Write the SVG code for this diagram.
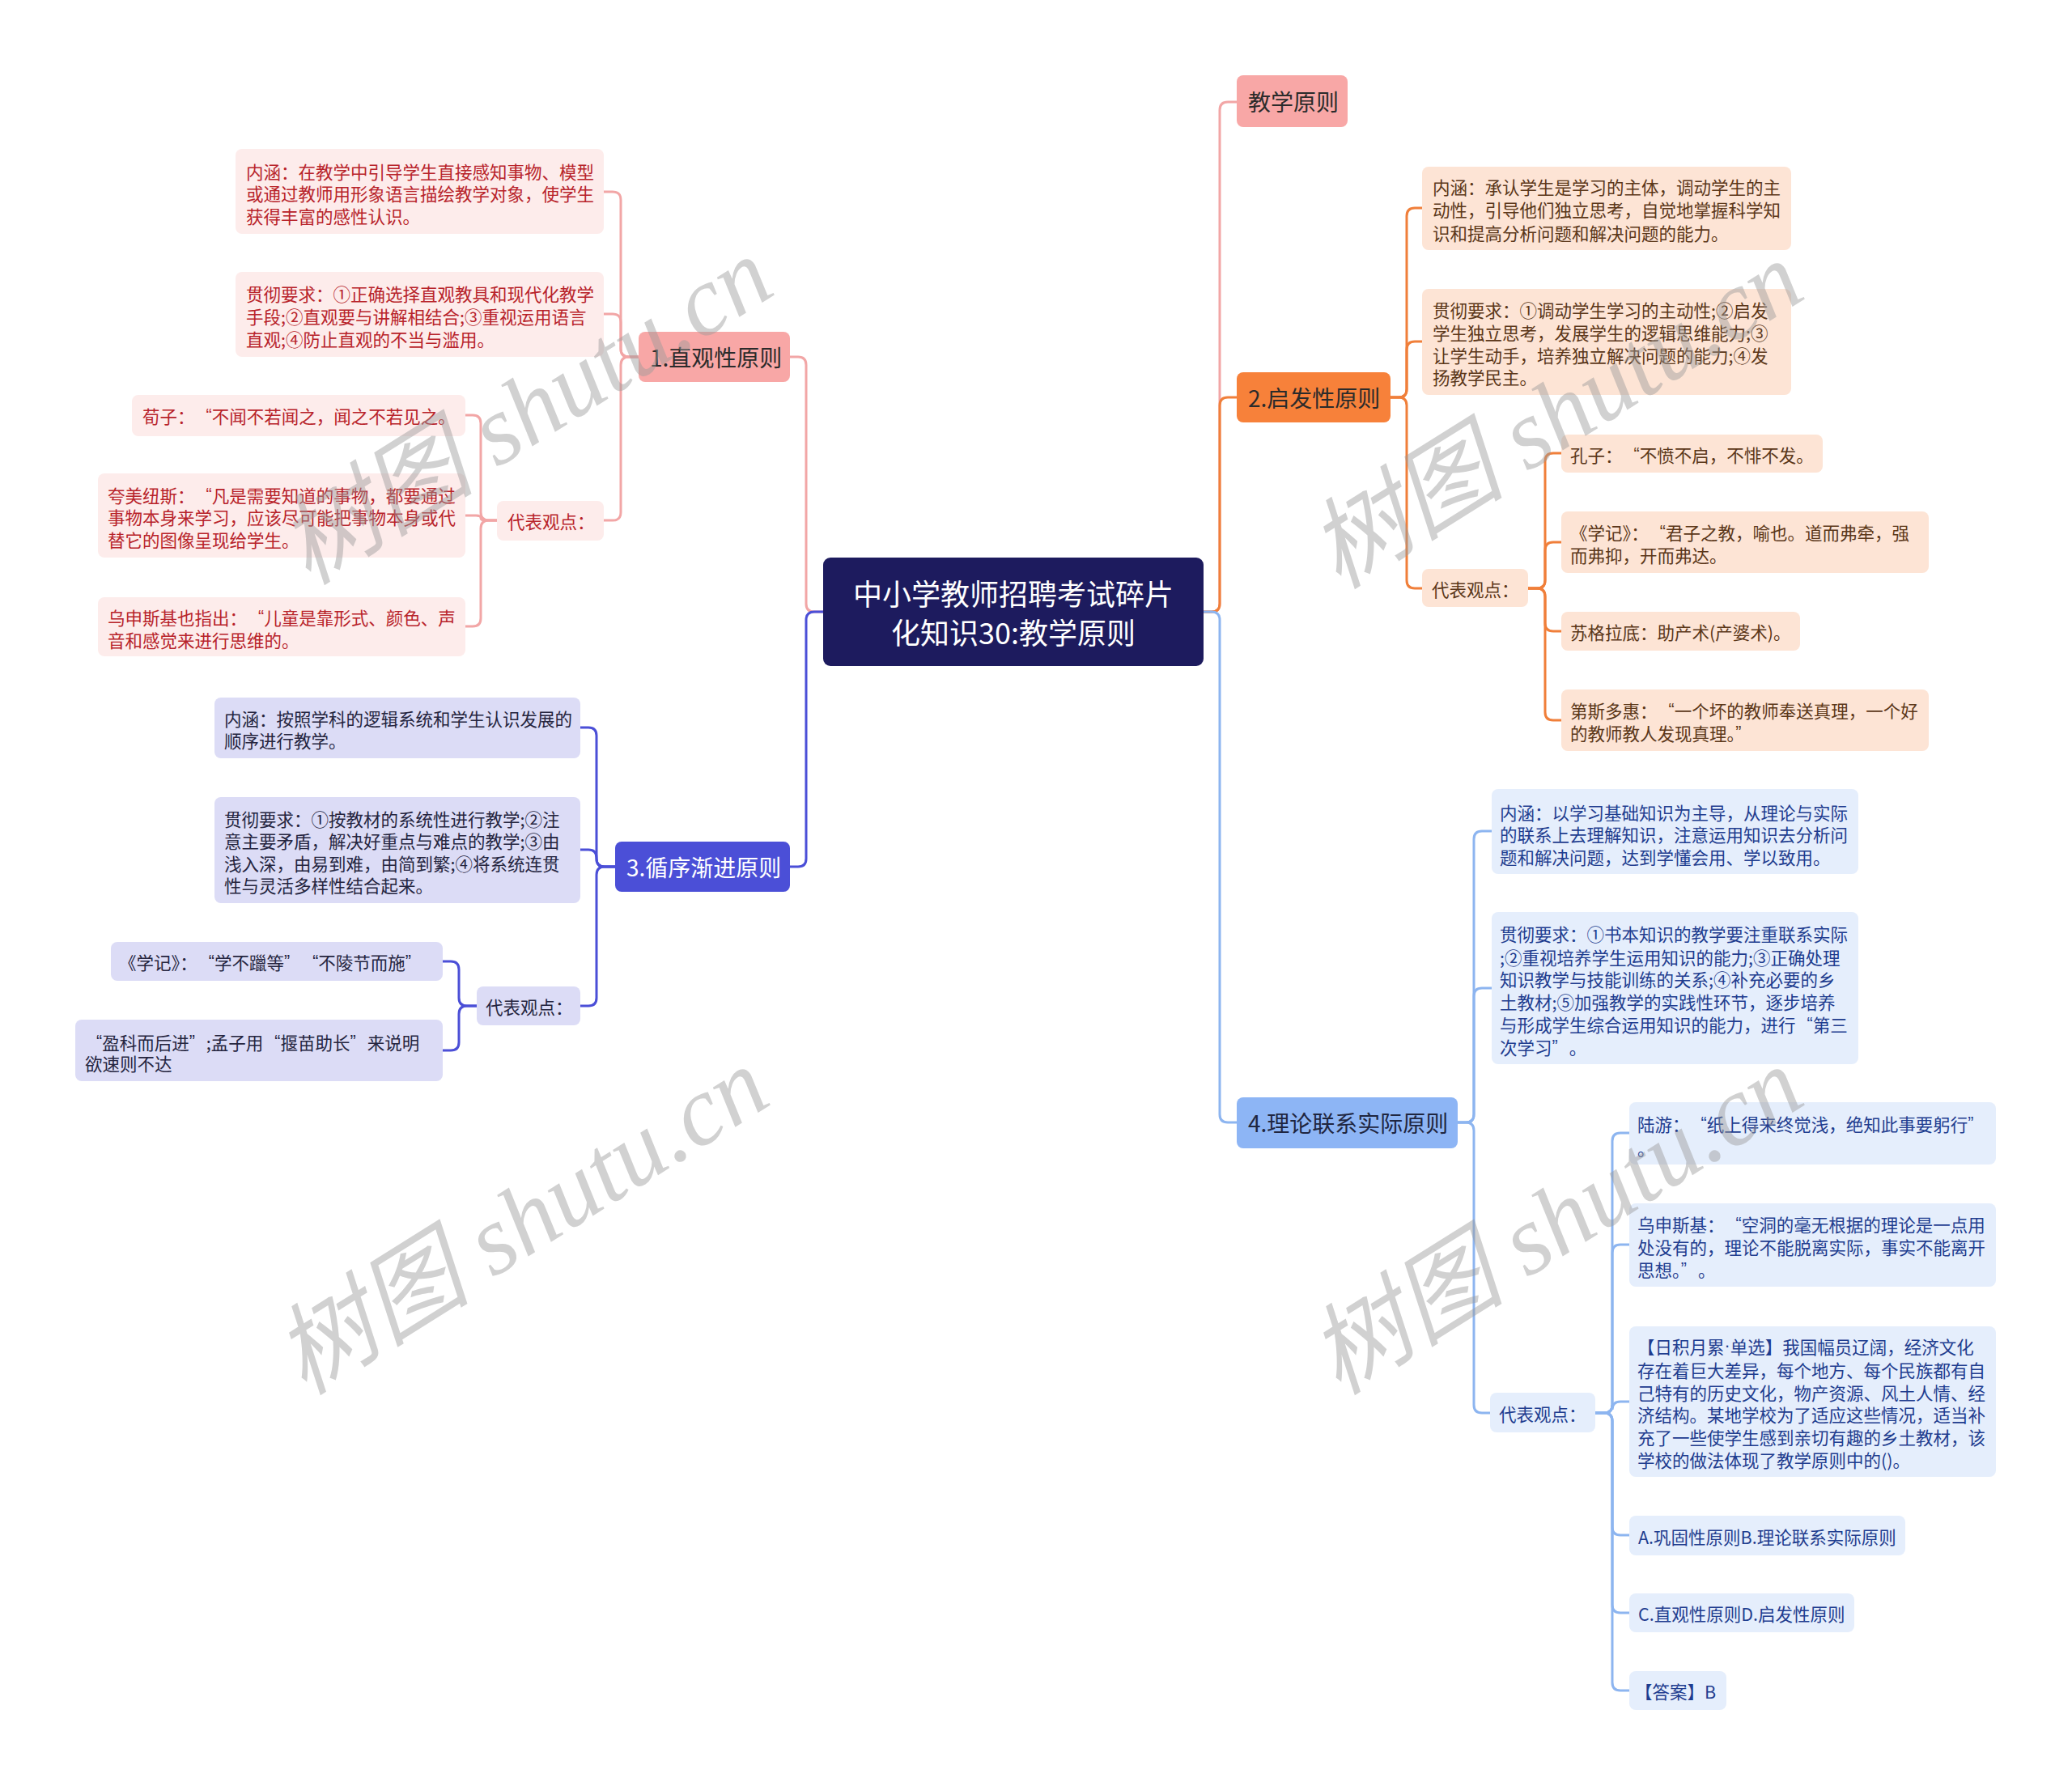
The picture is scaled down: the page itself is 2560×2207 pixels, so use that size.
<svg xmlns="http://www.w3.org/2000/svg" width="2560" height="2207" viewBox="0 0 2560 2207">
<style>
text{font-family:"Noto Sans CJK SC","Liberation Sans",sans-serif;dominant-baseline:central}
.t{font-size:21.5px}
.b{font-size:28px}
.r{font-size:36px;fill:#ffffff}
.d{font-family:"Liberation Sans",sans-serif}
.c1 rect{fill:#fdeceb}.c1 text{fill:#b8232a}
.c2 rect{fill:#fde4d5}.c2 text{fill:#5b3719}
.c3 rect{fill:#dcdcf6}.c3 text{fill:#25253f}
.c4 rect{fill:#e5eefc}.c4 text{fill:#1f3d8f}
.ln{fill:none;stroke-width:3;stroke-linecap:round}
.l1{stroke:#f2a6a6}.l2{stroke:#f07f3a}.l3{stroke:#4b4fd7}.l4{stroke:#8db5f0}
.wm{font-family:"Liberation Serif","Noto Sans CJK SC",serif;font-size:122px;font-style:italic;fill:#9a9a9a;opacity:0.45;dominant-baseline:alphabetic}
</style>
<rect width="2560" height="2207" fill="#ffffff"/>
<g id="connectors">
<path class="ln l1" d="M1017,756 H1006 Q996,756 996,746 V451 Q996,441 986,441 H976"/>
<path class="ln l3" d="M1017,756 H1006 Q996,756 996,766 V1061 Q996,1071 986,1071 H976"/>
<path class="ln l1" d="M1487,756 H1497 Q1507,756 1507,746 V136 Q1507,126 1517,126 H1528"/>
<path class="ln l2" d="M1487,756 H1497 Q1507,756 1507,746 V501 Q1507,491 1517,491 H1528"/>
<path class="ln l4" d="M1487,756 H1497 Q1507,756 1507,766 V1377 Q1507,1387 1517,1387 H1528"/>
<path class="ln l1" d="M789,441 H777 Q767,441 767,431 V247 Q767,237 757,237 H746"/>
<path class="ln l1" d="M789,441 H777 Q767,441 767,431 V398 Q767,388 757,388 H746"/>
<path class="ln l1" d="M789,441 H777 Q767,441 767,451 V633 Q767,643 757,643 H746"/>
<path class="ln l1" d="M614,643 H604 Q594,643 594,633 V523 Q594,513 584,513 H575"/>
<path class="ln l1" d="M614,643 H600 Q594,643 594,640 Q594,637 588,637 H575"/>
<path class="ln l1" d="M614,643 H604 Q594,643 594,653 V764 Q594,774 584,774 H575"/>
<path class="ln l3" d="M760,1071 H747 Q737,1071 737,1061 V909 Q737,899 727,899 H717"/>
<path class="ln l3" d="M760,1071 H747 Q737,1071 737,1061 V1060 Q737,1050 727,1050 H717"/>
<path class="ln l3" d="M760,1071 H747 Q737,1071 737,1081 V1233 Q737,1243 727,1243 H717"/>
<path class="ln l3" d="M589,1243 H577 Q567,1243 567,1233 V1198 Q567,1188 557,1188 H547"/>
<path class="ln l3" d="M589,1243 H577 Q567,1243 567,1253 V1288 Q567,1298 557,1298 H547"/>
<path class="ln l2" d="M1718,491 H1728 Q1738,491 1738,481 V267 Q1738,257 1748,257 H1757"/>
<path class="ln l2" d="M1718,491 H1728 Q1738,491 1738,481 V432 Q1738,422 1748,422 H1757"/>
<path class="ln l2" d="M1718,491 H1728 Q1738,491 1738,501 V717 Q1738,727 1748,727 H1757"/>
<path class="ln l2" d="M1888,727 H1899 Q1909,727 1909,717 V570 Q1909,560 1919,560 H1929"/>
<path class="ln l2" d="M1888,727 H1899 Q1909,727 1909,717 V680 Q1909,670 1919,670 H1929"/>
<path class="ln l2" d="M1888,727 H1899 Q1909,727 1909,737 V770 Q1909,780 1919,780 H1929"/>
<path class="ln l2" d="M1888,727 H1899 Q1909,727 1909,737 V880 Q1909,890 1919,890 H1929"/>
<path class="ln l4" d="M1800,1387 H1811 Q1821,1387 1821,1377 V1037 Q1821,1027 1831,1027 H1843"/>
<path class="ln l4" d="M1800,1387 H1811 Q1821,1387 1821,1377 V1231 Q1821,1221 1831,1221 H1843"/>
<path class="ln l4" d="M1800,1387 H1811 Q1821,1387 1821,1397 V1736 Q1821,1746 1831,1746 H1841"/>
<path class="ln l4" d="M1971,1746 H1982 Q1992,1746 1992,1736 V1410 Q1992,1400 2002,1400 H2013"/>
<path class="ln l4" d="M1971,1746 H1982 Q1992,1746 1992,1736 V1548 Q1992,1538 2002,1538 H2013"/>
<path class="ln l4" d="M1971,1746 H1982 Q1992,1746 1992,1736 V1742 Q1992,1732 2002,1732 H2013"/>
<path class="ln l4" d="M1971,1746 H1982 Q1992,1746 1992,1756 V1887 Q1992,1897 2002,1897 H2013"/>
<path class="ln l4" d="M1971,1746 H1982 Q1992,1746 1992,1756 V1983 Q1992,1993 2002,1993 H2013"/>
<path class="ln l4" d="M1971,1746 H1982 Q1992,1746 1992,1756 V2079 Q1992,2089 2002,2089 H2013"/>
</g>
<g id="root">
<rect x="1017" y="689" width="470" height="134" rx="9" fill="#1d1b5e"/>
<text class="r" x="1252" y="732" text-anchor="middle">中小学教师招聘考试碎片</text>
<text class="r" x="1252" y="780" text-anchor="middle">化知识30:教学原则</text>
</g>
<g id="b1">
<rect x="789" y="410" width="187" height="62" rx="8" fill="#f8a7a6"/>
<text class="b" x="803" y="441" fill="#2b2b2b">1.直观性原则</text>
</g>
<g id="b1-neihan" class="c1">
<rect x="291" y="184" width="455" height="105" rx="8"/>
<text class="t" x="304" y="211">内涵：在教学中引导学生直接感知事物、模型</text>
<text class="t" x="304" y="238">或通过教师用形象语言描绘教学对象，使学生</text>
<text class="t" x="304" y="266">获得丰富的感性认识。</text>
</g>
<g id="b1-guanche" class="c1">
<rect x="291" y="336" width="455" height="105" rx="8"/>
<text class="t" x="304" y="362">贯彻要求：①正确选择直观教具和现代化教学</text>
<text class="t" x="304" y="390">手段;②直观要与讲解相结合;③重视运用语言</text>
<text class="t" x="304" y="418">直观;④防止直观的不当与滥用。</text>
</g>
<g id="b1-daibiao" class="c1">
<rect x="614" y="619" width="132" height="49" rx="8"/>
<text class="t" x="627" y="643">代表观点：</text>
</g>
<g id="b1-xunzi" class="c1">
<rect x="163" y="488" width="412" height="51" rx="8"/>
<text class="t" x="176" y="513">荀子：<tspan class="d" dx="14">“</tspan>不闻不若闻之，闻之不若见之。</text>
</g>
<g id="b1-kuameiniusi" class="c1">
<rect x="121" y="585" width="454" height="104" rx="8"/>
<text class="t" x="133" y="611">夸美纽斯：<tspan class="d" dx="14">“</tspan>凡是需要知道的事物，都要通过</text>
<text class="t" x="133" y="638">事物本身来学习，应该尽可能把事物本身或代</text>
<text class="t" x="133" y="666">替它的图像呈现给学生。</text>
</g>
<g id="b1-wushensiji" class="c1">
<rect x="121" y="738" width="454" height="73" rx="8"/>
<text class="t" x="133" y="762">乌申斯基也指出：<tspan class="d" dx="14">“</tspan>儿童是靠形式、颜色、声</text>
<text class="t" x="133" y="790">音和感觉来进行思维的。</text>
</g>
<g id="b3">
<rect x="760" y="1040" width="216" height="62" rx="8" fill="#4b4fd7"/>
<text class="b" x="774" y="1071" fill="#ffffff">3.循序渐进原则</text>
</g>
<g id="b3-neihan" class="c3">
<rect x="265" y="862" width="452" height="75" rx="8"/>
<text class="t" x="277" y="887">内涵：按照学科的逻辑系统和学生认识发展的</text>
<text class="t" x="277" y="914">顺序进行教学。</text>
</g>
<g id="b3-guanche" class="c3">
<rect x="265" y="985" width="452" height="131" rx="8"/>
<text class="t" x="277" y="1011">贯彻要求：①按教材的系统性进行教学;②注</text>
<text class="t" x="277" y="1038">意主要矛盾，解决好重点与难点的教学;③由</text>
<text class="t" x="277" y="1066">浅入深，由易到难，由简到繁;④将系统连贯</text>
<text class="t" x="277" y="1093">性与灵活多样性结合起来。</text>
</g>
<g id="b3-daibiao" class="c3">
<rect x="589" y="1219" width="128" height="48" rx="8"/>
<text class="t" x="600" y="1243">代表观点：</text>
</g>
<g id="b3-xueji" class="c3">
<rect x="137" y="1164" width="410" height="48" rx="8"/>
<text class="t" x="147" y="1188">《学记》：<tspan class="d" dx="14">“</tspan>学不躐等<tspan class="d">”</tspan><tspan class="d" dx="28">“</tspan>不陵节而施<tspan class="d">”</tspan></text>
</g>
<g id="b3-yingke" class="c3">
<rect x="93" y="1260" width="454" height="76" rx="8"/>
<text class="t" x="105" y="1287"><tspan class="d" dx="14">“</tspan>盈科而后进<tspan class="d">”</tspan><tspan dx="14">;孟子用</tspan><tspan class="d" dx="14">“</tspan>揠苗助长<tspan class="d">”</tspan><tspan dx="14">来说明</tspan></text>
<text class="t" x="105" y="1313">欲速则不达</text>
</g>
<g id="b0">
<rect x="1528" y="93" width="137" height="64" rx="8" fill="#f8a7a6"/>
<text class="b" x="1542" y="125" fill="#2b2b2b">教学原则</text>
</g>
<g id="b2">
<rect x="1528" y="460" width="190" height="62" rx="8" fill="#f7813a"/>
<text class="b" x="1542" y="491" fill="#2b2b2b">2.启发性原则</text>
</g>
<g id="b2-neihan" class="c2">
<rect x="1757" y="206" width="456" height="103" rx="8"/>
<text class="t" x="1770" y="230">内涵：承认学生是学习的主体，调动学生的主</text>
<text class="t" x="1770" y="258">动性，引导他们独立思考，自觉地掌握科学知</text>
<text class="t" x="1770" y="287">识和提高分析问题和解决问题的能力。</text>
</g>
<g id="b2-guanche" class="c2">
<rect x="1757" y="357" width="456" height="131" rx="8"/>
<text class="t" x="1770" y="382">贯彻要求：①调动学生学习的主动性;②启发</text>
<text class="t" x="1770" y="410">学生独立思考，发展学生的逻辑思维能力;③</text>
<text class="t" x="1770" y="438">让学生动手，培养独立解决问题的能力;④发</text>
<text class="t" x="1770" y="465">扬教学民主。</text>
</g>
<g id="b2-daibiao" class="c2">
<rect x="1757" y="703" width="131" height="47" rx="8"/>
<text class="t" x="1769" y="727">代表观点：</text>
</g>
<g id="b2-kongzi" class="c2">
<rect x="1929" y="537" width="323" height="47" rx="8"/>
<text class="t" x="1940" y="561">孔子：<tspan class="d" dx="14">“</tspan>不愤不启，不悱不发。</text>
</g>
<g id="b2-xueji" class="c2">
<rect x="1929" y="632" width="454" height="76" rx="8"/>
<text class="t" x="1940" y="657">《学记》：<tspan class="d" dx="14">“</tspan>君子之教，喻也。道而弗牵，强</text>
<text class="t" x="1940" y="685">而弗抑，开而弗达。</text>
</g>
<g id="b2-sugeladi" class="c2">
<rect x="1929" y="756" width="295" height="48" rx="8"/>
<text class="t" x="1940" y="780">苏格拉底：助产术(产婆术)。</text>
</g>
<g id="b2-disiduohui" class="c2">
<rect x="1929" y="852" width="454" height="76" rx="8"/>
<text class="t" x="1940" y="877">第斯多惠：<tspan class="d" dx="14">“</tspan>一个坏的教师奉送真理，一个好</text>
<text class="t" x="1940" y="905">的教师教人发现真理。<tspan class="d">”</tspan></text>
</g>
<g id="b4">
<rect x="1528" y="1356" width="273" height="63" rx="8" fill="#8db5f5"/>
<text class="b" x="1542" y="1387" fill="#1f2640">4.理论联系实际原则</text>
</g>
<g id="b4-neihan" class="c4">
<rect x="1843" y="975" width="453" height="105" rx="8"/>
<text class="t" x="1853" y="1003">内涵：以学习基础知识为主导，从理论与实际</text>
<text class="t" x="1853" y="1030">的联系上去理解知识，注意运用知识去分析问</text>
<text class="t" x="1853" y="1058">题和解决问题，达到学懂会用、学以致用。</text>
</g>
<g id="b4-guanche" class="c4">
<rect x="1843" y="1127" width="453" height="188" rx="8"/>
<text class="t" x="1853" y="1153">贯彻要求：①书本知识的教学要注重联系实际</text>
<text class="t" x="1853" y="1182">;②重视培养学生运用知识的能力;③正确处理</text>
<text class="t" x="1853" y="1209">知识教学与技能训练的关系;④补充必要的乡</text>
<text class="t" x="1853" y="1237">土教材;⑤加强教学的实践性环节，逐步培养</text>
<text class="t" x="1853" y="1265">与形成学生综合运用知识的能力，进行<tspan class="d" dx="14">“</tspan>第三</text>
<text class="t" x="1853" y="1293">次学习<tspan class="d">”</tspan><tspan dx="14">。</tspan></text>
</g>
<g id="b4-daibiao" class="c4">
<rect x="1841" y="1721" width="130" height="49" rx="8"/>
<text class="t" x="1852" y="1746">代表观点：</text>
</g>
<g id="b4-luyou" class="c4">
<rect x="2013" y="1362" width="453" height="77" rx="8"/>
<text class="t" x="2023" y="1388">陆游：<tspan class="d" dx="14">“</tspan>纸上得来终觉浅，绝知此事要躬行<tspan class="d">”</tspan></text>
<text class="t" x="2023" y="1418">。</text>
</g>
<g id="b4-wushensiji" class="c4">
<rect x="2013" y="1487" width="453" height="103" rx="8"/>
<text class="t" x="2023" y="1512">乌申斯基：<tspan class="d" dx="14">“</tspan>空洞的毫无根据的理论是一点用</text>
<text class="t" x="2023" y="1540">处没有的，理论不能脱离实际，事实不能离开</text>
<text class="t" x="2023" y="1568">思想。<tspan class="d">”</tspan><tspan dx="14">。</tspan></text>
</g>
<g id="b4-question" class="c4">
<rect x="2013" y="1639" width="453" height="186" rx="8"/>
<text class="t" x="2023" y="1663">【日积月累<tspan class="d">·</tspan>单选】我国幅员辽阔，经济文化</text>
<text class="t" x="2023" y="1692">存在着巨大差异，每个地方、每个民族都有自</text>
<text class="t" x="2023" y="1720">己特有的历史文化，物产资源、风土人情、经</text>
<text class="t" x="2023" y="1747">济结构。某地学校为了适应这些情况，适当补</text>
<text class="t" x="2023" y="1775">充了一些使学生感到亲切有趣的乡土教材，该</text>
<text class="t" x="2023" y="1803">学校的做法体现了教学原则中的()。</text>
</g>
<g id="b4-optAB" class="c4">
<rect x="2013" y="1873" width="341" height="49" rx="8"/>
<text class="t" x="2024" y="1898">A.巩固性原则B.理论联系实际原则</text>
</g>
<g id="b4-optCD" class="c4">
<rect x="2013" y="1969" width="278" height="48" rx="8"/>
<text class="t" x="2024" y="1993">C.直观性原则D.启发性原则</text>
</g>
<g id="b4-answer" class="c4">
<rect x="2013" y="2065" width="120" height="48" rx="8"/>
<text class="t" x="2020" y="2089">【答案】B</text>
</g>
<g id="watermarks">
<text class="wm" transform="translate(650,509) rotate(-32)" text-anchor="middle" y="40">树图 shutu.cn</text>
<text class="wm" transform="translate(645,1510) rotate(-32)" text-anchor="middle" y="40">树图 shutu.cn</text>
<text class="wm" transform="translate(1923,514) rotate(-32)" text-anchor="middle" y="40">树图 shutu.cn</text>
<text class="wm" transform="translate(1923,1510) rotate(-32)" text-anchor="middle" y="40">树图 shutu.cn</text>
</g>
</svg>
